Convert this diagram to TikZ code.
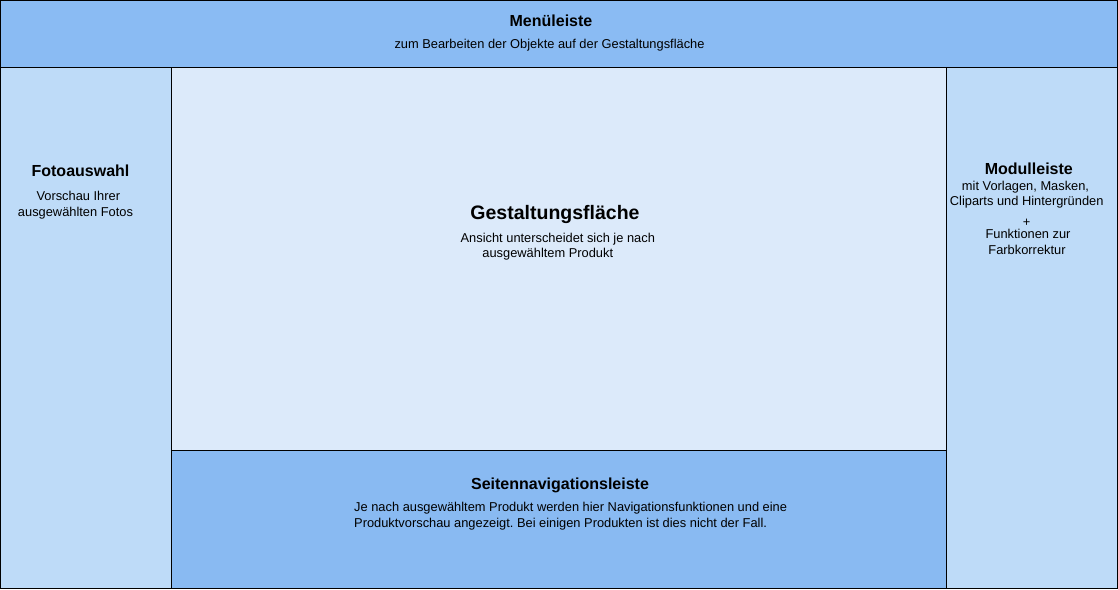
\documentclass[tikz,border=0pt]{standalone}
\usepackage{fontspec}
\setmainfont{Liberation Sans}
\usetikzlibrary{positioning}
\frenchspacing
\definecolor{MenuBlue}{HTML}{8ABBF3}
\definecolor{SideBlue}{HTML}{BEDBF8}
\definecolor{PageBlue}{HTML}{DCEAFA}
\definecolor{NavBlue}{HTML}{89BAF2}
\tikzset{%
  PanelStyle/.style={draw,line width=0.8pt,inner sep=0pt,outer sep=0pt,anchor=north west},
  TitleStyle/.style={inner sep=0pt,anchor=base,font=\fontsize{16}{19}\selectfont\bfseries},
  TextStyle/.style={inner sep=0pt,anchor=base,font=\fontsize{12.85}{16}\selectfont}
}

\begin{document}
\begin{tikzpicture}[x=1pt,y=-1pt]
  \useasboundingbox (0,0) rectangle (1118,589);
  % panels
  \node[PanelStyle,fill=MenuBlue,minimum width=1117pt,minimum height=67pt] (menu) at (0.5,0.5) {};
  \node[PanelStyle,fill=SideBlue,minimum width=171pt,minimum height=521pt] (foto) at (0.5,67.5) {};
  \node[PanelStyle,fill=PageBlue,minimum width=775pt,minimum height=383pt] (gestalt) at (171.5,67.5) {};
  \node[PanelStyle,fill=NavBlue,minimum width=775pt,minimum height=138pt] (nav) at (171.5,450.5) {};
  \node[PanelStyle,fill=SideBlue,minimum width=171pt,minimum height=521pt] (modul) at (946.5,67.5) {};
  % texts
  \node[TitleStyle] (menuTitle) at (551,26) {Menüleiste};
  \node[TextStyle] (menuText) at (549.5,48) {zum Bearbeiten der Objekte auf der Gestaltungsfläche};
  \node[TitleStyle] (fotoTitle) at (80.5,176) {Fotoauswahl};
  \node[TextStyle] (fotoText1) at (78.3,200) {Vorschau Ihrer};
  \node[TextStyle] (fotoText2) at (75.5,216) {ausgewählten Fotos};
  \node[TitleStyle,font=\fontsize{19.5}{23}\selectfont\bfseries] (gestaltTitle) at (555,219) {Gestaltungsfläche};
  \node[TextStyle] (gestaltText1) at (557.8,242) {Ansicht unterscheidet sich je nach};
  \node[TextStyle] (gestaltText2) at (547.8,257.5) {ausgewähltem Produkt};
  \node[TitleStyle] (navTitle) at (560,489.5) {Seitennavigationsleiste};
  \node[TextStyle,anchor=base west] (navText1) at (354,511.5)
    {Je nach ausgewähltem Produkt werden hier Navigationsfunktionen und eine};
  \node[TextStyle,anchor=base west] (navText2) at (354,527.2)
    {Produktvorschau angezeigt. Bei einigen Produkten ist dies nicht der Fall.};
  \node[TitleStyle] (modulTitle) at (1028.8,174.3) {Modulleiste};
  \foreach \txt/\xc/\yb [count=\i] in {{mit Vorlagen, Masken,}/1025.5/190,
    {Cliparts und Hintergründen}/1026.7/205.7, +/1026.7/226.5,
    {Funktionen zur}/1028/238, Farbkorrektur/1027/254}
  { \node[TextStyle] (modulText\i) at (\xc,\yb) {\txt};}
\end{tikzpicture}
\end{document}
